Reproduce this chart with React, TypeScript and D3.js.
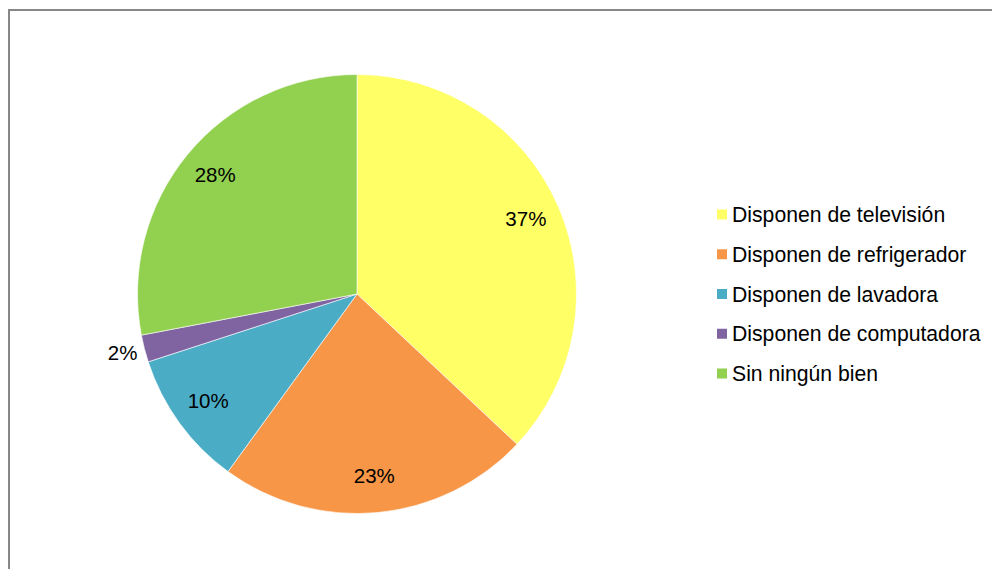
import React from "react";
import * as d3 from "d3";

const categories = [
  "Disponen de televisión",
  "Disponen de refrigerador",
  "Disponen de lavadora",
  "Disponen de computadora",
  "Sin ningún bien",
];
const values = [37, 23, 10, 2, 28];
const colors = ["#FFFF66", "#F79646", "#4BACC6", "#8064A2", "#92D050"];

const W = 992;
const H = 569;
const cx = 357;
const cy = 294;
const R = 219.5;
const FONT = "'Liberation Sans', Arial, sans-serif";

export default function App() {
  const total = d3.sum(values);
  const pie = d3.pie<number>().sort(null).value((d) => d);
  const arcs = pie(values);
  const arc = d3.arc<d3.PieArcDatum<number>>().innerRadius(0).outerRadius(R);
  const inLabel = d3.arc<d3.PieArcDatum<number>>().innerRadius(184).outerRadius(184);
  const outLabel = d3.arc<d3.PieArcDatum<number>>().innerRadius(242).outerRadius(242);

  const legendY = d3.scaleLinear().domain([0, categories.length - 1]).range([214.5, 373.5]);

  return (
    <svg
      width={W}
      height={H}
      style={{ position: "absolute", left: 0, top: 0, background: "#fff" }}
      fontFamily={FONT}
    >
      <rect x={9} y={10} width={W + 20} height={H + 20} fill="#fff" stroke="#878787" strokeWidth={2} />
      <g transform={`translate(${cx},${cy})`}>
        {arcs.map((a, i) => (
          <path key={i} d={arc(a) || ""} fill={colors[i]} stroke="#fff" strokeWidth={0.6} />
        ))}
        {arcs.map((a, i) => {
          const pct = Math.round((a.data / total) * 100);
          const [x, y] = (pct < 5 ? outLabel : inLabel).centroid(a);
          return (
            <text
              key={i}
              x={x}
              y={y - 2}
              textAnchor="middle"
              dominantBaseline="central"
              fontSize={20.5}
              fill="#000"
            >
              {pct}%
            </text>
          );
        })}
      </g>
      <g>
        {categories.map((c, i) => (
          <g key={i} transform={`translate(0,${legendY(i)})`}>
            <rect x={717} y={-5} width={10} height={10} fill={colors[i]} />
            <text x={732} y={0} dominantBaseline="central" fontSize={21.2} fill="#000">
              {c}
            </text>
          </g>
        ))}
      </g>
    </svg>
  );
}
